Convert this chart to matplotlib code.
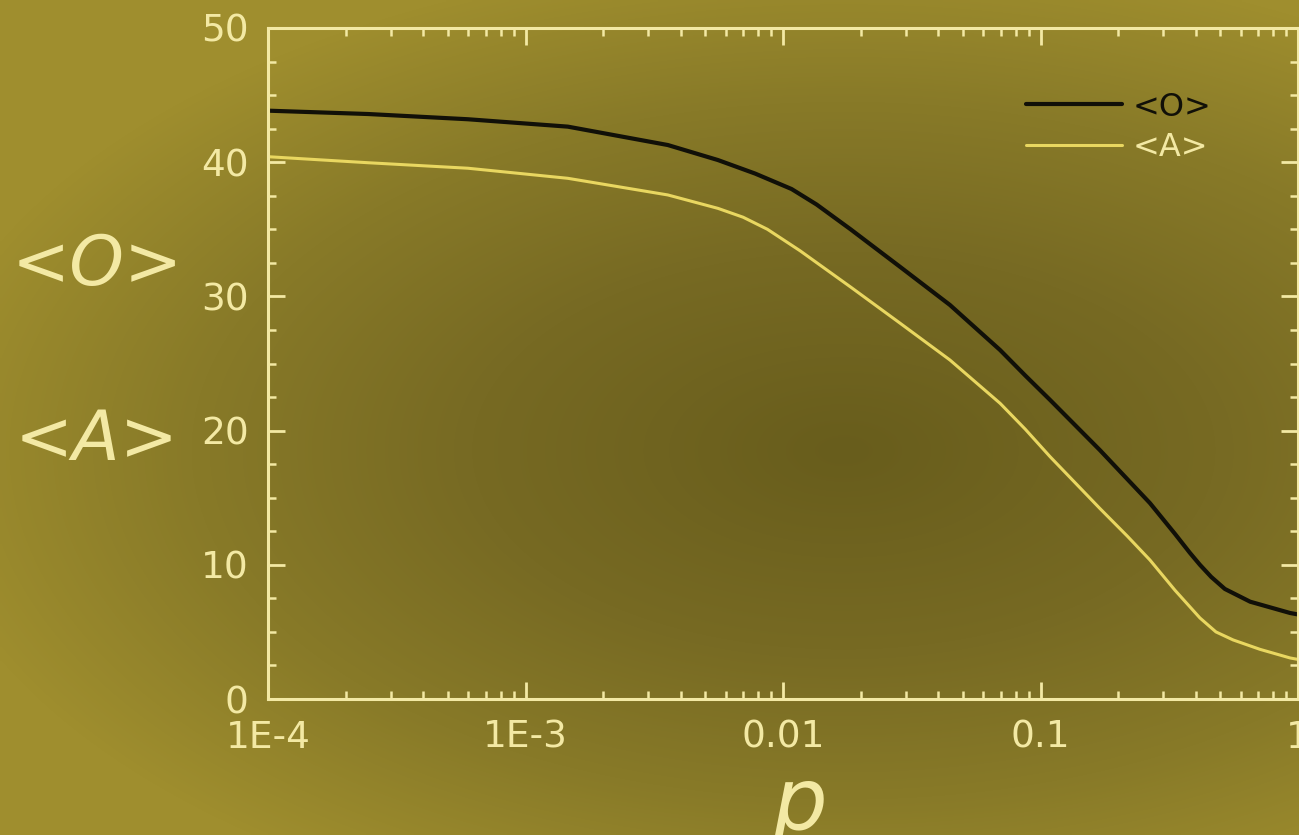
import numpy as np
import matplotlib
matplotlib.use("Agg")
import matplotlib.pyplot as plt
from matplotlib.colors import LinearSegmentedColormap
from matplotlib.ticker import LogLocator, FixedLocator, MultipleLocator, FixedFormatter

# ---- data ----
p_O = [1e-4, 2.45e-4, 5.98e-4, 1.46e-3, 3.57e-3, 5.59e-3, 0.0078, 0.0108, 0.0135,
       0.0183, 0.0285, 0.0445, 0.0697, 0.0873, 0.109, 0.17, 0.266, 0.333, 0.38,
       0.416, 0.46, 0.52, 0.652, 0.931, 1.0]
O_vals = [43.84, 43.59, 43.2, 42.65, 41.28, 40.16, 39.15, 38.0, 36.85,
          35.0, 32.2, 29.36, 26.0, 24.1, 22.28, 18.55, 14.6, 12.3, 10.9,
          10.0, 9.1, 8.2, 7.25, 6.41, 6.3]

p_A = [1e-4, 2.45e-4, 5.98e-4, 1.46e-3, 3.57e-3, 5.59e-3, 7.0e-3, 8.7e-3, 0.01165,
       0.0183, 0.0285, 0.0445, 0.0697, 0.0873, 0.109, 0.17, 0.217, 0.266, 0.333,
       0.416, 0.48, 0.56, 0.712, 0.931, 1.0]
A_vals = [40.41, 39.96, 39.55, 38.8, 37.56, 36.56, 35.9, 35.0, 33.4,
          30.7, 28.0, 25.26, 22.03, 20.1, 18.05, 14.2, 12.15, 10.36, 8.1,
          6.04, 5.0, 4.4, 3.7, 3.06, 2.95]

x_ticks = [1e-4, 1e-3, 1e-2, 1e-1, 1]
x_labels = ["1E-4", "1E-3", "0.01", "0.1", "1"]
y_ticks = [0, 10, 20, 30, 40, 50]

pale = "#f3e9a4"
yellow_line = "#e9d760"
FONT = "DejaVu Sans"

fig = plt.figure(figsize=(12.99, 8.35), dpi=100)

# background gradient (darker centre, lighter edges)
bg = fig.add_axes([0, 0, 1, 1], zorder=-10)
gx, gy = np.meshgrid(np.linspace(0, 1, 400), np.linspace(1, 0, 260))
dx = (gx - 0.65) / 0.72
dy = (gy - 0.46) / 0.60
d = np.clip(np.sqrt(dx ** 2 + dy ** 2), 0, 1)
cmap = LinearSegmentedColormap.from_list(
    "bg", [(0, "#685d1c"), (0.4, "#776a23"), (0.7, "#887a28"), (1, "#9f8e2e")])
bg.imshow(d, cmap=cmap, aspect="auto", extent=[0, 1, 0, 1], origin="upper",
          interpolation="bilinear", vmin=0, vmax=1)
bg.set_axis_off()

ax = fig.add_axes([268 / 1299, 1 - 699 / 835, (1298 - 268) / 1299, (699 - 28) / 835])
ax.set_facecolor("none")

ax.plot(p_O, O_vals, color="#111008", lw=3.0, label="<O>",
        solid_capstyle="round", solid_joinstyle="round")
ax.plot(p_A, A_vals, color=yellow_line, lw=2.2, label="<A>",
        solid_capstyle="round", solid_joinstyle="round")

ax.set_xscale("log")
ax.set_xlim(1e-4, 1)
ax.set_ylim(0, 50)

ax.xaxis.set_major_locator(FixedLocator(x_ticks))
ax.xaxis.set_major_formatter(FixedFormatter(x_labels))
ax.xaxis.set_minor_locator(LogLocator(base=10, subs=np.arange(2, 10)))
ax.xaxis.set_minor_formatter(plt.NullFormatter())
ax.yaxis.set_major_locator(FixedLocator(y_ticks))
ax.yaxis.set_minor_locator(MultipleLocator(2.5))

for s in ax.spines.values():
    s.set_color(pale)
    s.set_linewidth(2.2)

ax.tick_params(which="both", direction="in", color=pale, top=True, right=True,
               labelcolor=pale, labelsize=27)
ax.tick_params(which="major", length=12, width=2)
ax.tick_params(which="minor", length=6, width=1.8)
ax.tick_params(axis="y", which="major", pad=14)
ax.tick_params(axis="x", which="major", pad=15)
for lab in ax.get_xticklabels() + ax.get_yticklabels():
    lab.set_fontfamily(FONT)

leg = ax.legend(loc="upper right", bbox_to_anchor=(0.944, 0.948), frameon=False,
                handlelength=3.0, handletextpad=0.35, labelspacing=0.3,
                prop={"family": FONT, "size": 23})
for t, c in zip(leg.get_texts(), ["#111008", pale]):
    t.set_color(c)

fig.text(97 / 1299, 1 - 265 / 835, "<O>", color=pale, fontsize=50, style="italic",
         family=FONT, ha="center", va="center")
fig.text(97 / 1299, 1 - 440 / 835, "<A>", color=pale, fontsize=50, style="italic",
         family=FONT, ha="center", va="center")
fig.text(800 / 1299, 1 - 829 / 835, "p", color=pale, fontsize=62, style="italic",
         family=FONT, ha="center", va="baseline")

fig.savefig("out.png", dpi=100)
